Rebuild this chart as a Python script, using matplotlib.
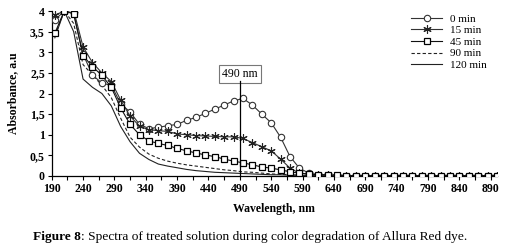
import matplotlib
matplotlib.use("Agg")
import matplotlib.pyplot as plt
from matplotlib.ticker import MultipleLocator, FuncFormatter

wavelength = list(range(195, 901, 15))

tail = [0.01] * 20
min0 = [3.78, 4.00, 3.95, 2.95, 2.45, 2.25, 2.20, 1.75, 1.55, 1.25, 1.15, 1.18, 1.22, 1.25,
        1.35, 1.42, 1.52, 1.62, 1.72, 1.82, 1.88, 1.72, 1.50, 1.29, 0.94, 0.47, 0.19, 0.07,
        ] + [0.03, 0.02] + tail[:18]
min15 = [3.90, 4.00, 4.02, 3.13, 2.75, 2.50, 2.29, 1.84, 1.45, 1.21, 1.12, 1.10, 1.08, 1.02,
         1.00, 0.98, 0.97, 0.96, 0.95, 0.95, 0.91, 0.81, 0.71, 0.61, 0.41, 0.19, 0.07,
         ] + [0.04, 0.02, 0.02] + tail[:18]
min45 = [3.46, 4.00, 3.93, 2.92, 2.65, 2.44, 2.15, 1.65, 1.25, 1.00, 0.85, 0.79, 0.74, 0.67,
         0.61, 0.56, 0.51, 0.47, 0.41, 0.36, 0.32, 0.27, 0.22, 0.19, 0.15, 0.10, 0.07,
         ] + [0.05, 0.03, 0.03, 0.02] + tail[:17]
min90 = [3.40, 4.00, 3.70, 2.70, 2.45, 2.20, 1.90, 1.40, 0.94, 0.70, 0.53, 0.43, 0.36, 0.31,
         0.27, 0.24, 0.21, 0.18, 0.15, 0.13, 0.10, 0.09, 0.07, 0.05, 0.04, 0.03, 0.02,
         ] + [0.02] * 4 + tail[:17]
min120 = [3.35, 4.00, 3.50, 2.35, 2.15, 2.00, 1.70, 1.20, 0.83, 0.55, 0.40, 0.29, 0.24, 0.20,
          0.16, 0.13, 0.11, 0.09, 0.08, 0.07, 0.06, 0.05, 0.04, 0.03, 0.03, 0.02, 0.02,
          ] + [0.01] * 4 + tail[:17]

labels = ["0 min", "15 min", "45 min", "90 min", "120 min"]
peak_nm = 490
peak_label = "490 nm"

plt.rcParams['font.family'] = ['Liberation Serif', 'DejaVu Serif']

fig = plt.figure(figsize=(5.15, 2.5), dpi=100)
ax = fig.add_axes([51.7/515, 1 - 176/250, (497 - 51.7)/515, 165/250])

lw = 0.8
ax.plot(wavelength, min0, color='#333333', lw=lw, marker='o', ms=4.6, mfc='white', mec='#333333', mew=0.8, label=labels[0], zorder=3)
ax.plot(wavelength, min15, color='#333333', lw=lw, marker=(6, 2, 0), ms=6, mec='#222222', mew=0.8, label=labels[1], zorder=4)
ax.plot(wavelength, min45, color='#111111', lw=lw, marker='s', ms=5, mfc='white', mec='black', mew=0.9, label=labels[2], zorder=5)
ax.plot(wavelength, min90, color='#222222', lw=lw, ls=(0, (3, 2)), label=labels[3], zorder=2)
ax.plot(wavelength, min120, color='#222222', lw=lw, label=labels[4], zorder=2)

ax.set_xlim(190, 900)
ax.set_ylim(0, 4)
ax.set_xticks(list(range(190, 891, 50)))
ax.set_xticks(list(range(215, 900, 50)), minor=True)
ax.yaxis.set_major_locator(MultipleLocator(0.5))
ax.yaxis.set_major_formatter(FuncFormatter(lambda v, p: ('%g' % v).replace('.', ',')))
for s in ['top', 'right']:
    ax.spines[s].set_visible(False)
for s in ['left', 'bottom']:
    ax.spines[s].set_linewidth(0.9)
ax.tick_params(axis='both', which='both', direction='out', length=3, width=0.8, labelsize=8.5, pad=2)
for t in ax.get_xticklabels() + ax.get_yticklabels():
    t.set_fontweight('bold')

ax.set_xlabel("Wavelength, nm", fontsize=8.5, fontweight='bold', labelpad=6)
ax.set_ylabel("Absorbance, a.u", fontsize=8.5, fontweight='bold', labelpad=8)

ax.plot([peak_nm, peak_nm], [0, 2.3], color='black', lw=0.9, zorder=6)
ax.text(peak_nm, 2.48, peak_label, ha='center', va='center', fontsize=8.5,
        bbox=dict(boxstyle='square,pad=0.25', fc='white', ec='#777777', lw=0.8))

leg = fig.legend(*ax.get_legend_handles_labels(), loc='upper left',
                 bbox_to_anchor=(411/515, 1 - 14/250), frameon=False, fontsize=8,
                 handlelength=2.8, handletextpad=0.7, labelspacing=0.16,
                 borderpad=0, borderaxespad=0)

fig.text(33/515, 1 - 237/250, "Figure 8", fontsize=9.6, fontweight='bold', va='center', ha='left')
fig.text(81/515, 1 - 237/250, ": Spectra of treated solution during color degradation of Allura Red dye.",
         fontsize=9.6, va='center', ha='left')

fig.savefig("out.png", dpi=100)
